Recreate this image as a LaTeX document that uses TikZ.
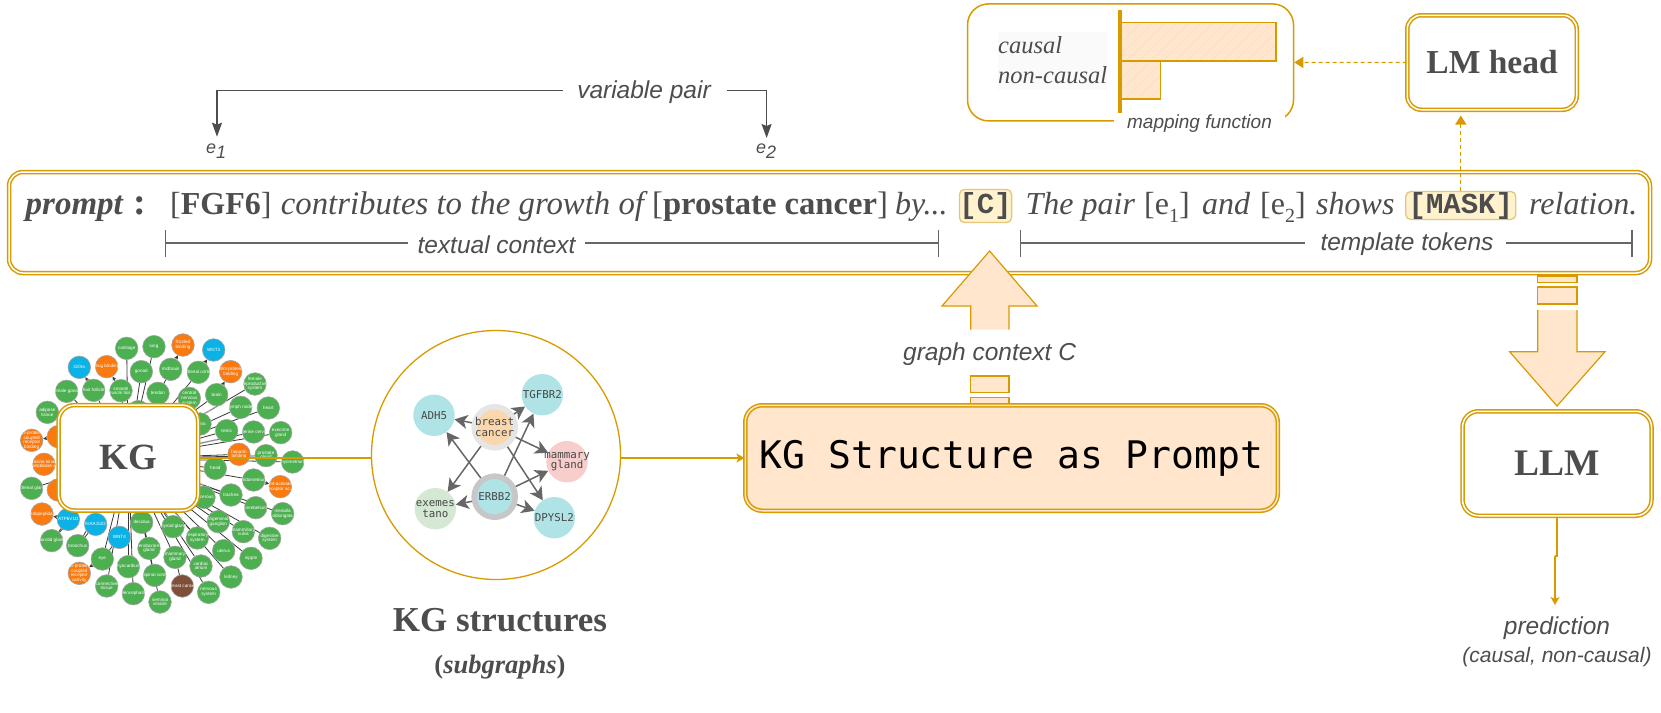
\documentclass[tikz,border=0pt]{standalone}
\usepackage{fontspec}
\setmainfont{Liberation Serif}
\setsansfont{Liberation Sans}
\setmonofont{Liberation Mono}
\newfontfamily\dvmono{DejaVu Sans Mono}
\usetikzlibrary{arrows.meta,backgrounds,calc}
\definecolor{gold}{HTML}{D79B00}
\definecolor{peach}{HTML}{FFE6CC}
\definecolor{hatch}{HTML}{FBDEC0}
\definecolor{ink}{HTML}{4D4D4D}
\definecolor{lineg}{HTML}{666666}
\definecolor{tokfill}{HTML}{FFF2CC}
\definecolor{tokline}{HTML}{E5C77A}
\definecolor{kgreen}{HTML}{4CAF50}
\definecolor{korange}{HTML}{FB7A10}
\definecolor{kblue}{HTML}{0AB2E6}
\definecolor{kbrown}{HTML}{7F4F3A}
\definecolor{teal}{HTML}{B0E3E6}
\definecolor{pinkish}{HTML}{F8CECC}
\definecolor{pale}{HTML}{D5E8D4}
\definecolor{sand}{HTML}{FAD7AC}
\newcommand{\pxs}[1]{\fontsize{#1}{#1}\selectfont}
\newcommand{\lowsub}[3]{\raisebox{-#2pt}{\pxs{#1}#3}}
\newcommand{\kgn}[5]{\node[kgnode,fill=#4,label={[kgtext]center:#5}] (#1) at (#2,#3) {};}
\tikzset{
  x=1pt,y=-1pt,
  dbl/.style={rectangle,draw=gold,line width=1.5pt,double=white,double distance=1.5pt,rounded corners=#1,inner sep=0pt},
  dbl/.default=14pt,
  sanslab/.style={font=\sffamily\itshape\pxs{24.5}\color{ink},inner sep=0pt,fill=white},
  frag/.style={anchor=base west,inner sep=0pt,font=\pxs{32}\color{ink}},
  token/.style={draw=tokline,fill=tokfill,line width=1.3pt,rounded corners=5pt,inner sep=0pt,font=\ttfamily\bfseries\color{ink}},
  blockarrow/.style={draw=gold,fill=peach,line width=1.2pt},
  dimline/.style={draw=lineg,line width=1.4pt},
  goldarrow/.style={draw=gold,line width=1.4pt,-{Stealth[length=8pt,width=9pt,inset=2pt]}},
  dasharrow/.style={draw=gold,line width=1.3pt,dash pattern=on 4pt off 3pt,-{Triangle[length=9pt,width=11pt]}},
  pairarrow/.style={draw=ink,line width=1.3pt,-{Stealth[length=14pt,width=10pt,inset=2pt]}},
  kgnode/.style={circle,draw=black!35,line width=.6pt,minimum size=22.6pt,inner sep=0pt},
  kgtext/.style={font=\sffamily\pxs{4.6},text=white,align=center,inner sep=0pt},
  kgedge/.style={draw=black!78,line width=.8pt},
  kgarrow/.style={draw=black!78,line width=.8pt,-{Stealth[length=4pt,width=4pt]}},
  kglab/.style={draw=black!30,line width=1.6pt,dash pattern=on 1pt off .7pt},
  subnode/.style={circle,minimum size=41.4pt,inner sep=0pt},
  ringnode/.style={circle,minimum size=41pt,inner sep=0pt,line width=5.6pt},
  subtext/.style={font=\dvmono\pxs{10.8},text=black!72,align=center,inner sep=0pt},
  subedge/.style={draw=lineg,line width=1.5pt,-{Stealth[length=13pt,width=14pt,inset=3.5pt]}},
}
\begin{document}
\begin{tikzpicture}
\useasboundingbox (0,0) rectangle (1661,712);

% ---------- prompt box
\node[dbl=14pt,fill=white,minimum width=1641pt,minimum height=101pt] (prompt) at (829.5,222.5) {};
\node[frag,font=\pxs{33}\bfseries\itshape\color{ink}] (w1) at (25.5,214.5) {prompt};
\node[frag,font=\pxs{38}\bfseries\color{ink}] (w2) at (133,214.5) {:};
\node[frag] (w3) at (170,214.5) {[\textbf{FGF6}]};
\node[frag,font=\pxs{32.8}\itshape\color{ink}] (w4) at (280.6,214.5) {contributes to the growth of};
\node[frag,font=\pxs{32.6}\color{ink}] (w5) at (652,214.5) {[\textbf{prostate cancer}]};
\node[frag,font=\pxs{32}\itshape\color{ink}] (w6) at (895,214.5) {by...};
\node[token,minimum width=51pt,minimum height=33pt,font=\ttfamily\bfseries\pxs{29}\color{ink}] (ctok) at (985.5,206) {[C]};
\node[frag,font=\pxs{32}\itshape\color{ink}] (w7) at (1025.4,214.5) {The pair};
\node[frag] (w8) at (1144,214.5) {[e\lowsub{20}{7.5}{1}]};
\node[frag,font=\pxs{32}\itshape\color{ink}] (w9) at (1202,214.5) {and};
\node[frag] (w10) at (1260,214.5) {[e\lowsub{20}{7.5}{2}]};
\node[frag,font=\pxs{32}\itshape\color{ink}] (w11) at (1316,214.5) {shows};
\node[token,minimum width=110pt,minimum height=28pt,font=\ttfamily\bfseries\pxs{29}\color{ink}] (mask) at (1460.8,205.5) {[MASK]};
\node[frag,font=\pxs{32}\itshape\color{ink}] (w12) at (1529,214.5) {relation.};

% dimension lines
\coordinate (tcL) at (164.5,243);
\coordinate (tcR) at (939,243);
\coordinate (ttL) at (1020,243);
\coordinate (ttR) at (1632.5,243);
\node[sanslab] (tc) at (496.5,245) {textual context};
\node[sanslab] (tt) at (1407,244.5) {template tokens};
\draw[dimline,{Bar[width=27pt,line width=1.2pt]}-] (tcL) -- ($(tcL -| tc.west)+(-9,0)$);
\draw[dimline,-{Bar[width=27pt,line width=1.2pt]}] ($(tcR -| tc.east)+(9,0)$) -- (tcR);
\draw[dimline,{Bar[width=27pt,line width=1.2pt]}-] (ttL) -- ($(ttL -| tt.west)+(-15,0)$);
\draw[dimline,-{Bar[width=27pt,line width=1.2pt]}] ($(ttR -| tt.east)+(12,0)$) -- (ttR);

% variable pair
\node[sanslab] (vp) at (644,92) {variable pair};
\node[font=\sffamily\itshape\pxs{18}\color{ink},inner sep=0pt,anchor=base west] (e1) at (206,153) {e\lowsub{18}{5}{1}};
\node[font=\sffamily\itshape\pxs{18}\color{ink},inner sep=0pt,anchor=base west] (e2) at (756,153.5) {e\lowsub{18}{5}{2}};
\coordinate (vpL) at ($(vp.west)+(-14,-1.5)$);
\coordinate (vpR) at ($(vp.east)+(16,-1.5)$);
\draw[pairarrow] (vpL) -| (217,136.7);
\draw[pairarrow] (vpR) -| (766.6,138);

% ---------- mapping function
\node[draw=gold,line width=1.5pt,rounded corners=21pt,minimum width=326pt,minimum height=117pt,inner sep=0pt] (mapbox) at (1130.5,62.4) {};
\node[fill=white,inner sep=0pt,minimum width=171pt,minimum height=19pt,font=\sffamily\itshape\pxs{19}\color{ink}] (mapf) at (1199.5,123.5) {mapping function};
\fill[black!2] (998,32) rectangle (1107,90);
\node[anchor=base west,inner sep=0pt,font=\pxs{24.5}\itshape\color{ink}] (causal) at (998,53) {causal};
\node[anchor=base west,inner sep=0pt,font=\pxs{24.5}\itshape\color{ink}] (noncausal) at (998,83) {non-causal};
\fill[peach] (1120,22.7) rectangle (1276,61);
\fill[peach] (1120,61) rectangle (1160.5,99);
\begin{scope}
  \clip (1120,22.7) rectangle (1276,61) (1120,61) rectangle (1160.5,99);
  \foreach \s in {1040,1052,...,1290} \draw[hatch,line width=.5pt] (\s,100) -- (\s+80,20);
\end{scope}
\draw[gold,line width=1.3pt] (1120,22.7) rectangle (1276,61);
\draw[gold,line width=1.3pt] (1120,61) rectangle (1160.5,99);
\draw[gold,line width=3.5pt] (1120,10) -- (1120,113);

% ---------- LM head
\node[dbl=14pt,fill=white,minimum width=169.5pt,minimum height=94.5pt,font=\bfseries\pxs{33.5}\color{ink}] (lm) at (1492,62.5) {LM head};
\draw[dasharrow] (lm.west) -- (mapbox.east);
\draw[dasharrow,shorten >=5pt] (mask.north) -- (mask.north |- lm.south);

% ---------- KG structure box + up arrow
\draw[blockarrow,fill=peach] (970.7,392.7) -- (970.7,376) -- (1009,376) -- (1009,392.7) -- cycle;
\draw[blockarrow,fill=peach] (970.7,404) -- (970.7,397.7) -- (1009,397.7) -- (1009,404) -- cycle;
\node[dbl=17pt,fill=peach,double=peach,minimum width=532.5pt,minimum height=105.5pt,font=\dvmono\pxs{38}\color{black}] (ks) at (1011.5,458) {KG Structure as Prompt};
\fill[peach] (970.7,329.5) -- (970.7,306) -- (942,306) -- (989.6,251) -- (1037,306) -- (1009,306) -- (1009,329.5) -- cycle;
\draw[gold,line width=1.2pt] (970.7,329.5) -- (970.7,306) -- (942,306) -- (989.6,251) -- (1037,306) -- (1009,306) -- (1009,329.5);
\node[sanslab] (gc) at (989.6,354) {graph context C};

% ---------- LLM + down arrow
\draw[blockarrow] (1537.7,276) rectangle (1577,282.7);
\draw[blockarrow] (1537.7,287) rectangle (1577,304);
\fill[peach] (1537.7,310) -- (1537.7,351.7) -- (1509.6,351.7) -- (1557,406) -- (1605,351.7) -- (1577,351.7) -- (1577,310) -- cycle;
\draw[gold,line width=1.2pt] (1537.7,310) -- (1537.7,351.7) -- (1509.6,351.7) -- (1557,406) -- (1605,351.7) -- (1577,351.7) -- (1577,310);
\node[dbl=16pt,fill=white,minimum width=189pt,minimum height=104.5pt,font=\bfseries\pxs{37.5}\color{ink}] (llm) at (1557,463.5) {LLM};
\node[font=\sffamily\itshape\pxs{24.5}\color{ink},inner sep=0pt] (pred) at (1557,628.5) {prediction};
\node[font=\sffamily\itshape\pxs{21}\color{ink},inner sep=0pt] (predsub) at (1557,657) {(causal, non-causal)};
\coordinate (jogA) at (1557,556);
\coordinate (jogB) at (1555,556);
\draw[gold,line width=1.3pt] (llm.south) -- (jogA) -- (jogB);
\draw[goldarrow] (jogB) -- (1555,605);

% ---------- big KG graph
\begin{scope}[shift={(0,320)},x=.33333pt,y=-.33333pt]
\coordinate (hub) at (385,415);
\kgn{a1}{380}{85}{kgreen}{cartilage}
\kgn{a2}{462}{80}{kgreen}{lung}
\kgn{a3}{549}{75}{korange}{frizzled\\binding}
\kgn{a4}{641}{90}{kblue}{WNT3}
\kgn{a5}{238}{142}{kblue}{il20ra}
\kgn{a6}{320}{140}{korange}{drug binding}
\kgn{a7}{424}{155}{kgreen}{gonad}
\kgn{a8}{512}{148}{kgreen}{midbrain}
\kgn{a9}{595}{157}{kgreen}{adrenal cortex}
\kgn{a10}{692}{155}{korange}{Wnt-protein\\binding}
\kgn{a11}{765}{192}{kgreen}{female\\reproductive\\system}
\kgn{a12}{200}{214}{kgreen}{female gonad}
\kgn{a13}{281}{211}{kgreen}{hair follicle}
\kgn{a14}{363}{212}{kgreen}{smooth\\muscle tiss...}
\kgn{a15}{474}{220}{kgreen}{tendon}
\kgn{a16}{568}{235}{kgreen}{central\\nervous\\system}
\kgn{a17}{650}{224}{kgreen}{brain}
\kgn{a18}{722}{262}{kgreen}{lymph node}
\kgn{a19}{805}{264}{kgreen}{heart}
\kgn{a20}{142}{277}{kgreen}{adipose\\tissue}
\kgn{a21}{680}{332}{kgreen}{testis}
\kgn{a22}{761}{336}{kgreen}{uterine cervix}
\kgn{a23}{842}{338}{kgreen}{exocrine\\gland}
\kgn{a24}{95}{361}{korange}{G-protein\\coupled\\receptor\\binding}
\kgn{a25}{175}{350}{korange}{}
\kgn{a26}{132}{433}{korange}{tyrosine kinase\\peptidase a}
\kgn{a27}{717}{403}{korange}{heparin\\binding}
\kgn{a28}{798}{407}{kgreen}{prostate\\gland}
\kgn{a29}{878}{426}{kgreen}{myometrium}
\kgn{a30}{646}{445}{kgreen}{head}
\kgn{a31}{95}{505}{kgreen}{adrenal gland}
\kgn{a32}{175}{510}{korange}{}
\kgn{a33}{761}{480}{kgreen}{endometrium}
\kgn{a34}{841}{500}{korange}{Wnt-activated\\receptor ac...}
\kgn{a35}{126}{582}{korange}{endopeptida...}
\kgn{a36}{693}{525}{kgreen}{trachea}
\kgn{a37}{767}{563}{kgreen}{cerebellum}
\kgn{a38}{848}{581}{kgreen}{medulla\\oblongata}
\kgn{a39}{205}{598}{kblue}{ATP6V1D}
\kgn{a40}{287}{613}{kblue}{KIAA1522}
\kgn{a41}{155}{662}{kgreen}{parotid gland}
\kgn{a42}{233}{677}{kgreen}{bronchus}
\kgn{a43}{358}{652}{kblue}{WNT4}
\kgn{a44}{425}{607}{kgreen}{decidua}
\kgn{a45}{519}{620}{kgreen}{thyroid gland}
\kgn{a46}{592}{654}{kgreen}{respiratory\\system}
\kgn{a47}{655}{605}{kgreen}{trigeminal\\ganglion}
\kgn{a48}{730}{635}{kgreen}{mammillary\\vulva}
\kgn{a49}{809}{655}{kgreen}{digestive\\system}
\kgn{a50}{307}{717}{kgreen}{eye}
\kgn{a51}{447}{685}{kgreen}{endocrine\\gland}
\kgn{a52}{525}{712}{kgreen}{mammary\\gland}
\kgn{a53}{671}{692}{kgreen}{uterus}
\kgn{a54}{753}{715}{kgreen}{nipple}
\kgn{a55}{238}{760}{korange}{G-protein\\coupled\\receptor\\activity}
\kgn{a56}{385}{740}{kgreen}{myocardium}
\kgn{a57}{464}{766}{kgreen}{spinal cord}
\kgn{a58}{603}{738}{kgreen}{cardiac\\atrium}
\kgn{a59}{693}{771}{kgreen}{kidney}
\kgn{a60}{320}{798}{kgreen}{connective\\tissue}
\kgn{a61}{400}{821}{kgreen}{telencephalon}
\kgn{a62}{547}{798}{kbrown}{breast cancer}
\kgn{a63}{626}{817}{kgreen}{nervous\\system}
\kgn{a64}{480}{846}{kgreen}{seminal\\vesicle}
\kgn{a65}{612}{532}{kgreen}{viscerous}
\kgn{a66}{600}{312}{kgreen}{retina}
\kgn{a67}{415}{275}{kgreen}{}
\begin{scope}[on background layer]
  \foreach \n in {a1,a2,a7,a8,a9,a11,a12,a13,a14,a15,a16,a17,a18,a19,a20,a21,a22,a23,a28,a29,a30,a31,a33,a36,a37,a38,a41,a42,a44,a45,a46,a47,a48,a49,a50,a51,a52,a53,a54,a56,a57,a58,a59,a60,a61,a63,a64,a65,a66,a27}
    \draw[kgedge] (hub) -- (\n);
  \foreach \n in {a11,a18,a21,a22,a33,a36,a47,a46,a58,a45,a51,a40}
    \draw[kglab] ($(hub)!.50!(\n)$) -- ($(hub)!.74!(\n)$);
\end{scope}
\draw[kgarrow] (a8) -- (a3);
\draw[kgarrow] (a9) -- (a4);
\draw[kgarrow] (a13) -- (a5);
\draw[kgarrow] (a14) -- (a6);
\draw[kgarrow] (a17) -- (a10);
\draw[kgarrow] (a25) -- (a24);
\draw[kgarrow] (a33) -- (a34);
\draw[kgarrow] (a50) -- (a55);
\draw[kgarrow] (a39) -- (a35);
\draw[kgedge] (a39) -- (a41);
\draw[kgedge] (a40) -- (a42);
\draw[kgedge] (a43) -- (a50);
\draw[kgedge] (a52) -- (a62);
\end{scope}
\node[dbl=16pt,fill=white,minimum width=139.5pt,minimum height=105.5pt,font=\bfseries\pxs{37}\color{ink}] (kg) at (128.3,457.8) {KG};

% ---------- subgraph circle
\node[circle,draw=gold,line width=1.3pt,minimum size=249pt,inner sep=0pt] (sub) at (496,455) {};
\draw[gold,line width=1.4pt] (kg.east) -- (kg.east -| sub.west);
\draw[goldarrow] (sub.east |- ks.west) -- (ks.west);
\node[subnode,fill=teal,label={[subtext]center:ADH5}] (adh) at (434,415.3) {};
\node[subnode,fill=teal,label={[subtext]center:TGFBR2}] (tgf) at (542.3,394.7) {};
\node[subnode,fill=pinkish,label={[subtext]center:mammary\\gland}] (mam) at (567,461.7) {};
\node[subnode,fill=pale,label={[subtext]center:exemes\\tano}] (exe) at (435.3,508.7) {};
\node[subnode,fill=teal,label={[subtext]center:DPYSL2}] (dpy) at (554.3,517.7) {};
\node[ringnode,draw=black!10,fill=sand,label={[subtext]center:breast\\cancer}] (bc) at (494.7,427.3) {};
\node[ringnode,draw=black!22,fill=teal,label={[subtext]center:ERBB2}] (erb) at (494.7,496.7) {};
\foreach \a/\b in {bc/adh,bc/tgf,bc/mam,bc/dpy,bc/exe,erb/adh,erb/tgf,erb/mam,erb/dpy,erb/exe}
  \draw[subedge] (\a) -- (\b);

% ---------- captions
\node[font=\bfseries\pxs{35}\color{ink},inner sep=0pt] (cap1) at (500,620) {KG structures};
\node[font=\bfseries\pxs{26.5}\color{ink},inner sep=0pt] (cap2) at (500,667) {(\textit{subgraphs})};
\end{tikzpicture}
\end{document}
